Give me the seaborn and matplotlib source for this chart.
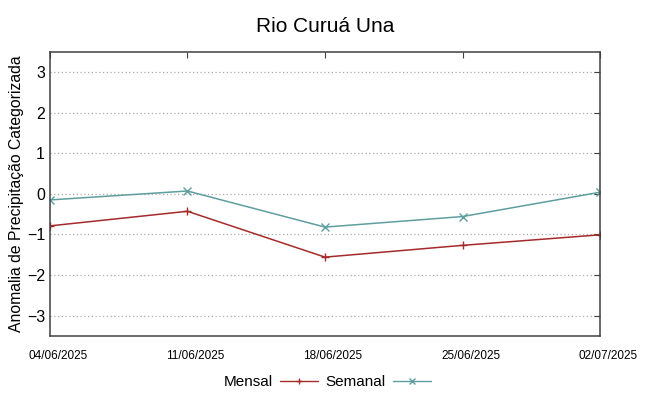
import pandas as pd
import matplotlib
matplotlib.use('Agg')
import matplotlib.pyplot as plt
import matplotlib.dates as mdates
import matplotlib.transforms as mtransforms
import seaborn as sns

datas = ['2025-06-04', '2025-06-11', '2025-06-18', '2025-06-25', '2025-07-02']
mensal = [-0.79, -0.43, -1.56, -1.27, -1.01]
semanal = [-0.15, 0.07, -0.82, -0.56, 0.04]

df = pd.DataFrame({'data': pd.to_datetime(datas), 'Mensal': mensal, 'Semanal': semanal})

sns.set_style('white')
plt.rcParams['font.family'] = ['Liberation Sans', 'DejaVu Sans']
plt.rcParams['text.color'] = 'black'
plt.rcParams['axes.labelcolor'] = 'black'
plt.rcParams['xtick.color'] = 'black'
plt.rcParams['ytick.color'] = 'black'

fig, ax = plt.subplots(figsize=(6.48, 3.96), dpi=100)
fig.subplots_adjust(left=0.077, right=0.926, top=0.869, bottom=0.152)

cores = {'Mensal': '#a52a2a', 'Semanal': '#5f9ea0'}
marcadores = {'Mensal': '+', 'Semanal': 'x'}
for serie in ['Mensal', 'Semanal']:
    sns.lineplot(data=df, x='data', y=serie, color=cores[serie], marker=marcadores[serie],
                 markersize=6, markeredgewidth=1, markeredgecolor=cores[serie],
                 linewidth=1.1, ax=ax, label=serie, legend=False)

ax.set_xlim(df['data'].iloc[0], df['data'].iloc[-1])
ax.set_ylim(-3.5, 3.5)
ax.set_xticks(df['data'])
ax.xaxis.set_major_formatter(mdates.DateFormatter('%d/%m/%Y'))
ax.set_yticks(range(-3, 4))
ax.tick_params(axis='x', labelsize=8.5, direction='in', top=True, length=4, color='#404040', pad=10)
ax.tick_params(axis='y', labelsize=11.5, direction='in', right=True, length=4, color='#404040')
ax.yaxis.grid(True, linestyle=(0, (1, 2)), color='#aaaaaa', linewidth=0.9)
for s in ax.spines.values():
    s.set_color('#404040')
    s.set_linewidth(1.1)

# gnuplot-like: x labels slightly shifted right of the ticks
desloc = mtransforms.ScaledTranslation(8 / 100, 0, fig.dpi_scale_trans)
for lbl in ax.get_xticklabels():
    lbl.set_transform(lbl.get_transform() + desloc)

ax.set_xlabel('')
ax.set_ylabel('Anomalia de Precipitação Categorizada', fontsize=11.3, labelpad=2)
ax.set_title('Rio Curuá Una', fontsize=15, pad=14)

handles = [plt.Line2D([], [], color=cores[k], marker=marcadores[k], markersize=5, linewidth=1)
           for k in ['Mensal', 'Semanal']]
fig.legend(handles, ['Mensal', 'Semanal'], loc='center', bbox_to_anchor=(0.505, 0.035),
           ncol=2, frameon=False, markerfirst=False, handlelength=2.5, fontsize=11,
           columnspacing=0.5, handletextpad=0.45)

fig.savefig('out.png', dpi=100)
